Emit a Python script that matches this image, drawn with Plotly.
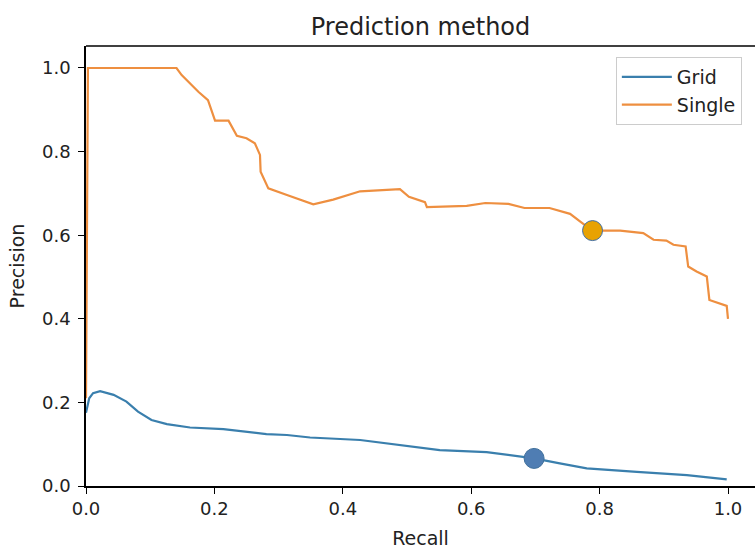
import plotly.graph_objects as go

# Grid series (recall, precision)
grid_recall = [0.0, 0.005, 0.011, 0.022, 0.043, 0.063, 0.081, 0.102, 0.126, 0.162, 0.214,
               0.25, 0.281, 0.313, 0.349, 0.427, 0.489, 0.551, 0.624, 0.676, 0.698,
               0.738, 0.780, 0.858, 0.936, 0.998]
grid_precision = [0.175, 0.21, 0.222, 0.227, 0.218, 0.202, 0.178, 0.158, 0.148, 0.140, 0.136,
                  0.130, 0.124, 0.122, 0.116, 0.110, 0.098, 0.086, 0.081, 0.070, 0.066,
                  0.054, 0.042, 0.034, 0.026, 0.016]

# Single series (recall, precision)
single_recall = [0.0, 0.003, 0.141, 0.149, 0.175, 0.19, 0.201, 0.222, 0.235, 0.25, 0.263,
                 0.271, 0.272, 0.284, 0.313, 0.354, 0.385, 0.427, 0.489, 0.503, 0.528,
                 0.531, 0.593, 0.622, 0.658, 0.683, 0.722, 0.754, 0.772, 0.789, 0.832,
                 0.868, 0.884, 0.904, 0.915, 0.934, 0.938, 0.951, 0.967, 0.971, 0.998, 1.0]
single_precision = [0.21, 1.0, 1.0, 0.983, 0.943, 0.923, 0.874, 0.874, 0.838, 0.832, 0.820,
                    0.792, 0.752, 0.712, 0.696, 0.674, 0.685, 0.705, 0.710, 0.692, 0.679,
                    0.667, 0.670, 0.677, 0.675, 0.665, 0.665, 0.651, 0.630, 0.611, 0.611,
                    0.605, 0.589, 0.587, 0.577, 0.573, 0.525, 0.513, 0.501, 0.445, 0.431, 0.400]

# Highlighted points
grid_point = (0.698, 0.066)
single_point = (0.789, 0.611)

x_ticks = [0.0, 0.2, 0.4, 0.6, 0.8, 1.0]
y_ticks = [0.0, 0.2, 0.4, 0.6, 0.8, 1.0]

FONT = "DejaVu Sans"
fig = go.Figure()
fig.add_trace(go.Scatter(x=grid_recall, y=grid_precision, mode="lines", name="Grid",
                         line=dict(color="#3a7fad", width=2.2)))
fig.add_trace(go.Scatter(x=single_recall, y=single_precision, mode="lines", name="Single",
                         line=dict(color="#ee8f40", width=2.2)))
fig.add_trace(go.Scatter(x=[single_point[0]], y=[single_point[1]], mode="markers", showlegend=False,
                         marker=dict(size=20, color="#e8a202", line=dict(color="#3f6ea8", width=1))))
fig.add_trace(go.Scatter(x=[grid_point[0]], y=[grid_point[1]], mode="markers", showlegend=False,
                         marker=dict(size=20, color="#4f7db3", line=dict(color="#41719c", width=1))))

# top spine (right spine is cropped off in the original)
fig.add_shape(type="line", xref="paper", yref="paper", x0=0, x1=1, y0=1, y1=1,
              line=dict(color="black", width=1.5))

fig.update_layout(
    width=755, height=549,
    margin=dict(l=86, r=0, t=46, b=63),
    paper_bgcolor="white", plot_bgcolor="white",
    font=dict(family=FONT, color="#222222", size=18),
    title=dict(text="Prediction method", x=0.557, xanchor="center", y=1 - 27 / 549, yanchor="middle",
               font=dict(size=24, family=FONT, color="#222222")),
    showlegend=True,
    legend=dict(x=0.792, y=0.975, xanchor="left", yanchor="top", bordercolor="#cccccc", borderwidth=1,
                bgcolor="rgba(255,255,255,0.8)", font=dict(size=19, family=FONT, color="#222222"),
                itemwidth=50, tracegroupgap=2),
    xaxis=dict(range=[0, 669 / 642], tickvals=x_ticks, ticktext=[f"{v:.1f}" for v in x_ticks],
               showgrid=False, zeroline=False, showline=True, linecolor="black", linewidth=1.5,
               ticks="outside", ticklen=6, tickcolor="black",
               title=dict(text="Recall", font=dict(size=19, family=FONT), standoff=14)),
    yaxis=dict(range=[0, 1.0526], tickvals=y_ticks, ticktext=[f"{v:.1f}" for v in y_ticks],
               showgrid=False, zeroline=False, showline=True, linecolor="black", linewidth=1.5,
               ticks="outside", ticklen=6, tickcolor="black", ticklabelstandoff=4,
               title=dict(text="Precision", font=dict(size=19, family=FONT), standoff=12)),
)

fig.write_html("out.html")
